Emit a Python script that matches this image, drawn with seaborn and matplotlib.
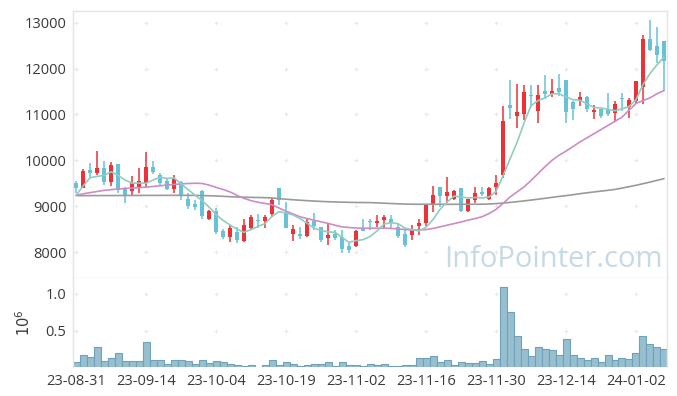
import numpy as np
import pandas as pd
import matplotlib
matplotlib.use("Agg")
import matplotlib.pyplot as plt
import seaborn as sns
from matplotlib.ticker import FuncFormatter

# Daily candles (23-08-31 .. 24-01-08)
opens = [9500, 9400, 9780, 9720, 9840, 9530, 9930, 9380, 9330, 9420,
         9510, 9850, 9670, 9550, 9380, 9530, 9150, 9040, 9330, 8710,
         8900, 8460, 8330, 8430, 8240, 8530, 8700, 8680, 8840, 9400,
         8870, 8390, 8400, 8360, 8670, 8540, 8300, 8390, 8320, 8130,
         8130, 8530, 8670, 8640, 8700, 8720, 8550, 8390, 8370, 8570,
         8640, 9040, 9410, 9220, 9150, 9400, 8890, 9130, 9310, 9150,
         9420, 9680, 11200, 10960, 11000, 11420, 11070, 11520, 11450, 11580,
         11760, 11280, 11290, 11390, 11060, 11110, 11110, 11030, 11340, 11160,
         11290, 11600, 12650, 12480, 12590]
highs = [9550, 9800, 9940, 10200, 9980, 9960, 9930, 9420, 9650, 9840,
         10170, 9980, 9730, 9620, 9690, 9550, 9280, 9130, 9350, 8910,
         8950, 8500, 8590, 8550, 8730, 8800, 8840, 8810, 9170, 9400,
         9090, 8590, 8540, 8730, 8860, 8550, 8620, 8480, 8480, 8190,
         8480, 8730, 8730, 8800, 8800, 8800, 8620, 8480, 8590, 8730,
         9040, 9440, 9410, 9630, 9350, 9400, 9160, 9410, 9420, 9420,
         9670, 11180, 11760, 11670, 11650, 11650, 11630, 11850, 11780, 11880,
         11760, 11290, 11480, 11410, 11200, 11120, 11470, 11290, 11460, 11360,
         11720, 12720, 13060, 12900, 12600]
lows = [9280, 9390, 9640, 9680, 9470, 9430, 9280, 9080, 9240, 9290,
        9420, 9700, 9440, 9360, 9280, 9130, 8930, 8910, 8730, 8700,
        8400, 8280, 8220, 8190, 8220, 8480, 8520, 8520, 8760, 9020,
        8530, 8250, 8280, 8320, 8480, 8220, 8150, 8260, 7990, 7990,
        8120, 8460, 8480, 8540, 8520, 8520, 8310, 8110, 8260, 8370,
        8560, 8880, 8990, 9060, 9140, 8870, 8870, 9060, 9220, 9130,
        9240, 9620, 10900, 10710, 10870, 11170, 10820, 11340, 11380, 11410,
        10820, 10870, 11180, 11060, 10890, 10930, 10970, 10830, 11080, 10920,
        11220, 11220, 12380, 12120, 11520]
closes = [9400, 9760, 9720, 9840, 9520, 9900, 9360, 9220, 9510, 9540,
          9850, 9740, 9510, 9380, 9600, 9220, 9000, 8990, 8790, 8900,
          8430, 8330, 8530, 8260, 8590, 8760, 8680, 8760, 9130, 9130,
          8530, 8500, 8360, 8650, 8570, 8260, 8380, 8310, 8060, 8040,
          8460, 8470, 8650, 8680, 8770, 8640, 8360, 8150, 8510, 8640,
          9020, 9240, 9220, 9310, 9330, 8890, 9150, 9290, 9260, 9400,
          9500, 10850, 11150, 11050, 11480, 11400, 11430, 11450, 11500, 11490,
          11050, 11110, 11390, 11120, 11100, 10960, 11000, 11230, 11330, 11320,
          11720, 12650, 12410, 12300, 12160]
# volume in millions of shares
volume_m = [0.068, 0.162, 0.135, 0.270, 0.081, 0.122, 0.189, 0.081, 0.081, 0.081,
            0.351, 0.095, 0.095, 0.041, 0.095, 0.095, 0.081, 0.041, 0.095, 0.054,
            0.081, 0.068, 0.041, 0.027, 0.014, 0.027, 0.004, 0.027, 0.095, 0.027,
            0.068, 0.041, 0.014, 0.027, 0.041, 0.041, 0.068, 0.013, 0.067, 0.027,
            0.027, 0.013, 0.040, 0.027, 0.040, 0.013, 0.013, 0.027, 0.027, 0.121,
            0.121, 0.148, 0.067, 0.094, 0.027, 0.067, 0.054, 0.054, 0.081, 0.040,
            0.108, 1.099, 0.756, 0.432, 0.256, 0.148, 0.270, 0.243, 0.229, 0.162,
            0.391, 0.162, 0.121, 0.094, 0.121, 0.067, 0.162, 0.094, 0.121, 0.108,
            0.189, 0.432, 0.324, 0.270, 0.243]

# moving average lines as drawn in the reference
ma5 = [9240, 9440, 9620, 9650, 9670, 9750, 9670, 9570, 9500, 9505,
       9500, 9570, 9630, 9605, 9615, 9490, 9360, 9240, 9120, 8980,
       8820, 8690, 8590, 8500, 8430, 8490, 8560, 8620, 8780, 8880,
       8850, 8810, 8730, 8630, 8520, 8470, 8440, 8430, 8320, 8210,
       8250, 8270, 8340, 8460, 8610, 8640, 8620, 8520, 8490, 8460,
       8540, 8710, 8930, 9090, 9220, 9200, 9180, 9190, 9180, 9200,
       9320, 9660, 10030, 10390, 10810, 11190, 11300, 11360, 11450, 11450,
       11380, 11320, 11310, 11230, 11150, 11140, 11110, 11080, 11120, 11170,
       11320, 11650, 11890, 12080, 12250]
ma20 = [9240, 9270, 9295, 9320, 9345, 9360, 9375, 9385, 9395, 9405,
        9415, 9430, 9445, 9460, 9475, 9485, 9495, 9500, 9495, 9460,
        9410, 9365, 9310, 9235, 9170, 9120, 9085, 9060, 9030, 8960,
        8890, 8830, 8770, 8730, 8695, 8660, 8625, 8585, 8550, 8535,
        8525, 8520, 8520, 8520, 8520, 8515, 8505, 8490, 8480, 8482,
        8490, 8515, 8550, 8585, 8620, 8655, 8695, 8730, 8770, 8840,
        8930, 9060, 9200, 9310, 9420, 9560, 9710, 9860, 10000, 10110,
        10200, 10300, 10400, 10490, 10580, 10670, 10760, 10850, 10940, 11090,
        11240, 11300, 11360, 11450, 11520]
ma_long = [9230, 9230, 9231, 9231, 9232, 9232, 9233, 9233, 9234, 9234,
           9235, 9235, 9235, 9236, 9236, 9236, 9236, 9235, 9232, 9228,
           9222, 9215, 9207, 9200, 9196, 9192, 9189, 9186, 9178, 9165,
           9152, 9140, 9130, 9120, 9112, 9104, 9097, 9092, 9088, 9084,
           9081, 9080, 9078, 9072, 9065, 9058, 9052, 9046, 9043, 9042,
           9041, 9041, 9041, 9041, 9041, 9041, 9041, 9042, 9043, 9048,
           9056, 9068, 9082, 9098, 9115, 9133, 9152, 9172, 9192, 9212,
           9230, 9250, 9272, 9292, 9310, 9328, 9346, 9365, 9395, 9425,
           9455, 9490, 9525, 9562, 9600]

tick_pos = [0, 10, 20, 30, 40, 50, 60, 70, 80]
tick_labels = ["23-08-31", "23-09-14", "23-10-04", "23-10-19", "23-11-02",
               "23-11-16", "23-11-30", "23-12-14", "24-01-02"]
price_ticks = [8000, 9000, 10000, 11000, 12000, 13000]

UP = "#ec3237"
DOWN = "#67c2d8"
GRID = "#e8e8e8"
SPINE = "#e4e4e4"
TEXT = "#3a3a3a"

sns.set_style("white")
plt.rcParams["font.family"] = ["Open Sans", "DejaVu Sans"]
plt.rcParams["mathtext.fontset"] = "dejavusans"

idx = np.arange(len(closes))
df = pd.DataFrame({"idx": idx, "open": opens, "high": highs, "low": lows,
                   "close": closes, "vol": np.array(volume_m) * 1e6,
                   "ma5": ma5, "ma20": ma20, "ma_long": ma_long})

fig = plt.figure(figsize=(6.77, 3.96), dpi=100)
ax = fig.add_axes([73.3 / 677, 1 - 278 / 396, (667 - 73.3) / 677, (278 - 10.7) / 396])
axv = fig.add_axes([73.3 / 677, 1 - 367.3 / 396, (667 - 73.3) / 677, (367.3 - 278) / 396])

XLIM = (-0.4, 84.43)

# grid crosses at tick intersections
gx, gy = np.meshgrid(tick_pos, price_ticks)
ax.scatter(gx.ravel(), gy.ravel(), marker="+", s=12, color=GRID, linewidths=0.8, zorder=0)
gx, gy = np.meshgrid(tick_pos, [0.5e6, 1.0e6])
axv.scatter(gx.ravel(), gy.ravel(), marker="+", s=12, color=GRID, linewidths=0.8, zorder=0)

# candles
up = df["close"] >= df["open"]
colors = np.where(up, UP, DOWN)
ax.vlines(df["idx"], df["low"], df["high"], colors=colors, linewidth=1.1, zorder=2)
body_bottom = np.minimum(df["open"], df["close"])
body_h = np.maximum(np.abs(df["close"] - df["open"]), 18)
ax.bar(df["idx"], body_h, bottom=body_bottom, width=0.62, color=colors, linewidth=0, zorder=3)

# moving averages
sns.lineplot(data=df, x="idx", y="ma_long", ax=ax, color="#9a9a9a", linewidth=1.2, zorder=4)
sns.lineplot(data=df, x="idx", y="ma20", ax=ax, color="#cc8cc6", linewidth=1.2, zorder=4)
sns.lineplot(data=df, x="idx", y="ma5", ax=ax, color="#8fcdc0", linewidth=1.2, zorder=4)

ax.text(0.9924, 0.04, "InfoPointer.com", transform=ax.transAxes, ha="right", va="baseline",
        fontsize=21, color="#c6d9e4", zorder=1)

ax.set_xlim(*XLIM)
ax.set_ylim(7435, 13260)
ax.set_yticks(price_ticks)
ax.set_yticklabels([str(v) for v in price_ticks])
ax.set_xticks(tick_pos)
ax.set_xticklabels([])
ax.set_xlabel("")
ax.set_ylabel("")

# volume
sns.barplot(data=df, x="idx", y="vol", ax=axv, native_scale=True, width=1.0,
            color="#97bfd0", edgecolor="#6fa2ba", linewidth=0.8, saturation=1,
            errorbar=None, zorder=2)
axv.set_xlim(*XLIM)
axv.set_ylim(0, 1.216e6)
axv.set_yticks([0.5e6, 1.0e6])
axv.yaxis.set_major_formatter(FuncFormatter(lambda v, p: f"{v / 1e6:.1f}"))
axv.set_xticks(tick_pos)
axv.set_xticklabels(tick_labels)
axv.set_xlabel("")
axv.set_ylabel(r"$10^6$", fontsize=10.5, color=TEXT, labelpad=8)

for a in (ax, axv):
    a.tick_params(length=0, labelsize=10.5, colors=TEXT, pad=5)
    for s in a.spines.values():
        s.set_color(SPINE)
        s.set_linewidth(1.0)
axv.spines["bottom"].set_visible(False)
axv.spines["top"].set_visible(False)

fig.savefig("out.png", dpi=100)
